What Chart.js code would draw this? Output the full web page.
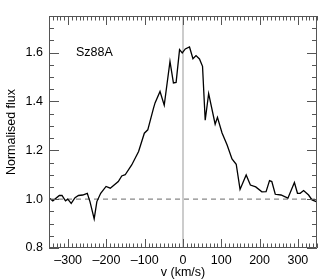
<!DOCTYPE html>
<html>
<head>
<meta charset="utf-8">
<script src="https://cdn.jsdelivr.net/npm/chart.js@4/dist/chart.umd.min.js"></script>
<style>
  html, body { margin: 0; padding: 0; background: #fff; }
  #wrap { width: 327px; height: 280px; position: relative; }
</style>
</head>
<body>
<div id="wrap"><canvas id="spec"></canvas></div>
<script>
// Sz88A line profile
const velocity = [-349, -340, -323, -316, -307, -301, -292, -282, -273, -262, -250, -243, -232, -225, -215,
  -201, -190, -169, -160, -151, -134, -116, -101, -92, -77, -73, -60, -49, -34, -25, -18, -9, -2, 6, 17,
  26, 34, 43, 51, 58, 67, 84, 90, 102, 115, 128, 139, 149, 165, 176, 190, 206, 217, 226, 232, 241, 256,
  274, 291, 299, 306, 315, 328, 337, 348];
const flux = [1.004, 0.993, 1.015, 1.015, 0.993, 1.0, 0.983, 1.006, 1.015, 1.017, 1.024, 0.99, 0.919, 0.99, 1.024,
  1.052, 1.045, 1.072, 1.095, 1.10, 1.14, 1.195, 1.27, 1.284, 1.373, 1.394, 1.441, 1.385, 1.564, 1.476, 1.478, 1.612, 1.599, 1.615, 1.623,
  1.575, 1.588, 1.574, 1.544, 1.323, 1.432, 1.307, 1.335, 1.271, 1.223, 1.165, 1.143, 1.04, 1.099, 1.058, 1.05, 1.03, 1.031, 1.076, 1.072, 1.02, 1.017,
  1.004, 1.068, 1.024, 1.024, 1.035, 1.017, 0.997, 0.99];
const xTicks = [-300, -200, -100, 0, 100, 200, 300];
const yTicks = [0.8, 1.0, 1.2, 1.4, 1.6];
const xRange = [-350, 350];
const yRange = [0.8, 1.75];
const continuumLevel = 1.0;
const label = 'Sz88A';

const FONT = 'Liberation Sans, Arial, Helvetica, sans-serif';
const AXIS_COLOR = '#555';

// inward ticks on all four sides plus the frame
const frameTicks = {
  id: 'frameTicks',
  afterDraw(chart) {
    const { ctx, chartArea: a, scales: { x, y } } = chart;
    ctx.save();
    ctx.strokeStyle = AXIS_COLOR;
    ctx.lineWidth = 1;
    ctx.beginPath();
    ctx.rect(Math.round(a.left) + 0.5, Math.round(a.top) + 0.5,
      Math.round(a.right - a.left) - 1, Math.round(a.bottom - a.top) - 1);
    for (let v = xRange[0]; v <= xRange[1]; v += 10) {
      const px = Math.round(x.getPixelForValue(v)) + 0.5;
      const len = v % 100 === 0 ? 9 : 4.5;
      ctx.moveTo(px, a.bottom); ctx.lineTo(px, a.bottom - len);
      ctx.moveTo(px, a.top); ctx.lineTo(px, a.top + len);
    }
    for (let i = 0; i <= 19; i++) {
      const v = yRange[0] + i * 0.05;
      const py = Math.round(y.getPixelForValue(v)) + 0.5;
      const len = i % 4 === 0 ? 10 : 5;
      ctx.moveTo(a.left, py); ctx.lineTo(a.left + len, py);
      ctx.moveTo(a.right, py); ctx.lineTo(a.right - len, py);
    }
    ctx.stroke();
    ctx.fillStyle = '#000';
    ctx.font = '12.5px ' + FONT;
    ctx.textBaseline = 'middle';
    ctx.fillText(label, a.left + 27, a.top + 37);
    ctx.restore();
  }
};

new Chart(document.getElementById('spec'), {
  type: 'line',
  data: {
    datasets: [
      {
        data: velocity.map((v, i) => ({ x: v, y: flux[i] })),
        borderColor: '#000',
        borderWidth: 1.3,
        pointRadius: 0,
        tension: 0,
        order: 0
      },
      {
        data: xRange.map(v => ({ x: v, y: continuumLevel })),
        borderColor: '#888',
        borderWidth: 1.2,
        borderDash: [5, 4],
        pointRadius: 0,
        order: 1
      },
      {
        data: yRange.map(v => ({ x: 0, y: v })),
        borderColor: '#bbb',
        borderWidth: 1.5,
        pointRadius: 0,
        order: 2
      }
    ]
  },
  options: {
    responsive: true,
    maintainAspectRatio: false,
    animation: false,
    events: [],
    layout: { padding: 0 },
    plugins: { legend: { display: false }, tooltip: { enabled: false } },
    scales: {
      x: {
        type: 'linear',
        position: 'bottom',
        min: xRange[0],
        max: xRange[1],
        grid: { display: false, drawTicks: false },
        border: { display: false },
        afterBuildTicks(s) { s.ticks = xTicks.map(v => ({ value: v })); },
        ticks: {
          autoSkip: false,
          color: '#000',
          padding: 5,
          maxRotation: 0,
          font: { family: FONT, size: 12.5 },
          callback: v => (v < 0 ? '\u2013' + Math.abs(v) : String(v))
        },
        title: {
          display: true,
          text: 'v (km/s)',
          color: '#000',
          font: { family: FONT, size: 12.5 },
          padding: { top: 0, bottom: 0 }
        },
        afterFit(s) { s.height = 32; }
      },
      x2: {
        type: 'linear',
        position: 'top',
        min: xRange[0],
        max: xRange[1],
        grid: { display: false, drawTicks: false },
        border: { display: false },
        ticks: { display: false },
        afterFit(s) { s.height = 16; }
      },
      y: {
        type: 'linear',
        position: 'left',
        min: yRange[0],
        max: yRange[1],
        grid: { display: false, drawTicks: false },
        border: { display: false },
        afterBuildTicks(s) { s.ticks = yTicks.map(v => ({ value: v })); },
        ticks: {
          autoSkip: false,
          color: '#000',
          padding: 6,
          font: { family: FONT, size: 12.5 },
          callback: v => Number(v).toFixed(1)
        },
        title: {
          display: true,
          text: 'Normalised flux',
          color: '#000',
          font: { family: FONT, size: 12.5 },
          padding: { top: 4, bottom: 0 }
        },
        afterFit(s) { s.width = 49; }
      },
      y2: {
        type: 'linear',
        position: 'right',
        min: yRange[0],
        max: yRange[1],
        grid: { display: false, drawTicks: false },
        border: { display: false },
        ticks: { display: false },
        afterFit(s) { s.width = 10; }
      }
    }
  },
  plugins: [frameTicks]
});
</script>
</body>
</html>
